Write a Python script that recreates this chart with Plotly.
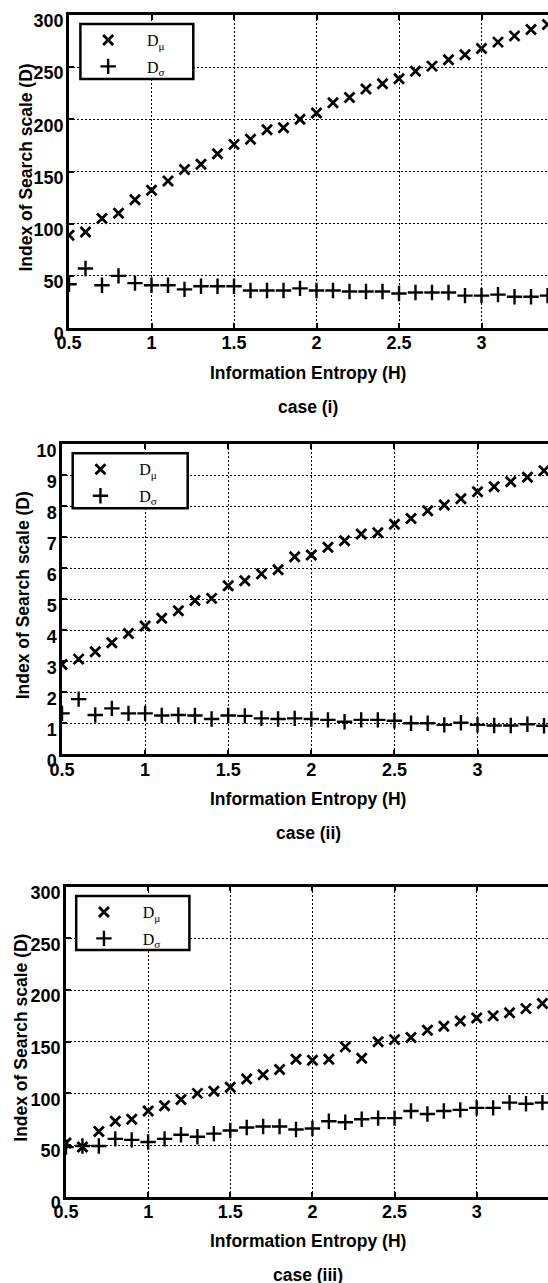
import plotly.graph_objects as go

# ---------------- data ----------------
H = [0.5, 0.6, 0.7, 0.8, 0.9, 1.0, 1.1, 1.2, 1.3, 1.4,
     1.5, 1.6, 1.7, 1.8, 1.9, 2.0, 2.1, 2.2, 2.3, 2.4,
     2.5, 2.6, 2.7, 2.8, 2.9, 3.0, 3.1, 3.2, 3.3, 3.4]

mu_i = [89, 92, 105, 110, 123, 132, 141, 152, 157, 167,
        176, 181, 190, 192, 200, 206, 216, 221, 229, 234,
        239, 246, 251, 257, 262, 268, 274, 280, 286, 291]
sigma_i = [42, 57, 41, 50, 43, 41, 41, 37, 40, 40,
           40, 36, 36, 36, 38, 36, 36, 35, 35, 35,
           33, 34, 34, 34, 31, 31, 32, 30, 30, 31]

mu_ii = [2.9, 3.07, 3.31, 3.6, 3.9, 4.14, 4.39, 4.63, 4.96, 5.03,
         5.44, 5.6, 5.82, 5.95, 6.37, 6.43, 6.68, 6.89, 7.11, 7.15,
         7.42, 7.61, 7.86, 8.04, 8.24, 8.47, 8.63, 8.79, 8.94, 9.15]
sigma_ii = [1.32, 1.78, 1.27, 1.48, 1.32, 1.32, 1.25, 1.27, 1.25, 1.14,
            1.25, 1.24, 1.16, 1.14, 1.16, 1.14, 1.11, 1.05, 1.11, 1.11,
            1.08, 1.0, 1.0, 0.95, 1.02, 0.95, 0.93, 0.93, 0.97, 0.92]

mu_iii = [52, 48, 63, 73, 75, 83, 88, 94, 100, 102,
          106, 114, 118, 123, 133, 132, 133, 145, 134, 150,
          152, 154, 161, 165, 170, 173, 175, 178, 182, 187]
sigma_iii = [48, 49, 49, 56, 55, 53, 56, 60, 58, 61,
             64, 67, 68, 68, 65, 66, 73, 72, 75, 76,
             76, 83, 80, 83, 84, 86, 86, 91, 90, 91]

x_tickvals = [0.5, 1, 1.5, 2, 2.5, 3]
x_ticktext = ["0.5", "1", "1.5", "2", "2.5", "3"]
y_ticks_i = [0, 50, 100, 150, 200, 250, 300]
y_ticks_ii = [0, 1, 2, 3, 4, 5, 6, 7, 8, 9, 10]
y_ticks_iii = [0, 50, 100, 150, 200, 250, 300]

legend_names = ["D<sub>μ</sub>", "D<sub>σ</sub>"]
x_title = "Information Entropy (H)"
y_title = "Index of Search scale (D)"
case_labels = ["case (i)", "case (ii)", "case (iii)"]

# ---------------- layout geometry (pixels) ----------------
FW, FH = 548, 1283
panels = [
    dict(left=69, top=15, bottom=328, xmax=3.403, ymax=300, yt=y_ticks_i,
         mu=mu_i, sg=sigma_i, box=(80.4, 24, 193.3, 79), ytx=25),
    dict(left=62, top=444.3, bottom=754.3, xmax=3.424, ymax=10, yt=y_ticks_ii,
         mu=mu_ii, sg=sigma_ii, box=(72.7, 453.3, 187.7, 508.3), ytx=23),
    dict(left=66, top=886.7, bottom=1196.7, xmax=3.434, ymax=300, yt=y_ticks_iii,
         mu=mu_iii, sg=sigma_iii, box=(76.2, 896, 189.4, 950), ytx=21),
]

def px(x):
    return x / FW

def py(y):
    return 1 - y / FH

FONT = "Liberation Sans, Arial, sans-serif"
fig = go.Figure()
shapes = []
annotations = []
layout = dict(template="none", width=FW, height=FH,
              margin=dict(l=0, r=0, t=0, b=0, pad=0, autoexpand=False),
              paper_bgcolor="white", plot_bgcolor="white", showlegend=True)

for i, p in enumerate(panels):
    n = "" if i == 0 else str(i + 1)
    lg = "legend" if i == 0 else "legend" + str(i + 1)
    fig.add_trace(go.Scatter(
        x=H, y=p["mu"], mode="markers", name=legend_names[0],
        xaxis="x" + n, yaxis="y" + n, legend=lg, legendgroup="mu" + n,
        marker=dict(symbol="x-thin", size=10, color="black",
                    line=dict(width=2.8, color="black"))))
    fig.add_trace(go.Scatter(
        x=H, y=p["sg"], mode="markers", name=legend_names[1],
        xaxis="x" + n, yaxis="y" + n, legend=lg, legendgroup="sg" + n,
        marker=dict(symbol="cross-thin", size=11, color="black",
                    line=dict(width=2.4, color="black"))))

    layout["xaxis" + n] = dict(
        domain=[px(p["left"]), 1], range=[0.5, p["xmax"]], anchor="y" + n,
        tickvals=x_tickvals, ticktext=x_ticktext, automargin=False,
        ticks="inside", ticklen=5, tickwidth=1.5, tickcolor="black",
        showline=True, linewidth=2.5, linecolor="black", mirror="ticks",
        showgrid=True, gridcolor="black", gridwidth=1.4, griddash="2px,2px",
        zeroline=False, ticklabelstandoff=-3,
        tickfont=dict(family=FONT, size=18, color="black", weight="bold"))
    layout["yaxis" + n] = dict(
        domain=[py(p["bottom"]), py(p["top"])], range=[0, p["ymax"]],
        anchor="x" + n, tickvals=p["yt"], automargin=False,
        ticks="inside", ticklen=5, tickwidth=1.5, tickcolor="black",
        showline=True, linewidth=2.5, linecolor="black", mirror=False,
        showgrid=True, gridcolor="black", gridwidth=1.4, griddash="2px,2px",
        zeroline=False, ticklabelshift=6, ticklabelstandoff=-1,
        tickfont=dict(family=FONT, size=18, color="black", weight="bold"))

    bx0, by0, bx1, by1 = p["box"]
    shapes.append(dict(type="rect", xref="paper", yref="paper",
                       x0=px(bx0), x1=px(bx1), y0=py(by1), y1=py(by0),
                       line=dict(color="black", width=2.5),
                       fillcolor="white", layer="above"))
    layout[lg] = dict(x=px(bx0 - 11), y=py(by0 - 1), xanchor="left", yanchor="top",
                      bgcolor="rgba(0,0,0,0)", borderwidth=0,
                      itemwidth=67.5, tracegroupgap=2.7,
                      font=dict(family="Liberation Serif, Times New Roman, serif",
                                size=16, color="black"))

    annotations.append(dict(text=x_title, xref="paper", yref="paper",
                            x=px(308), y=py(p["bottom"] + 44.5),
                            xanchor="center", yanchor="middle", showarrow=False,
                            font=dict(family=FONT, size=17.5, color="black", weight="bold")))
    annotations.append(dict(text=case_labels[i], xref="paper", yref="paper",
                            x=px(308), y=py(p["bottom"] + 78.5),
                            xanchor="center", yanchor="middle", showarrow=False,
                            font=dict(family=FONT, size=17.5, color="black", weight="bold")))
    annotations.append(dict(text=y_title, xref="paper", yref="paper",
                            x=px(p["ytx"]), y=py((p["top"] + p["bottom"]) / 2 - 4),
                            xanchor="center", yanchor="middle", showarrow=False,
                            textangle=-90,
                            font=dict(family=FONT, size=17.5, color="black", weight="bold")))

layout["shapes"] = shapes
layout["annotations"] = annotations
fig.update_layout(**layout)
fig.write_html("out.html",
               config={"displayModeBar": False},
               post_script="document.body.style.margin='0';"
                           "document.body.style.padding='0';"
                           "document.body.style.overflow='hidden';")
